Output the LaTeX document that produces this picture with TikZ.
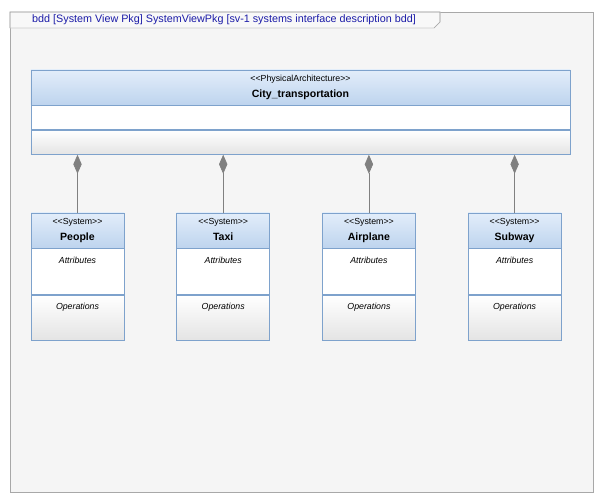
\documentclass[tikz,border=0pt]{standalone}
\usepackage{fontspec}
\setmainfont{Liberation Sans}
\usepackage{tikz}
\usetikzlibrary{positioning, arrows.meta}
\definecolor{frameline}{HTML}{A8A8A8}
\definecolor{framefill}{HTML}{F5F5F5}
\definecolor{tabfill}{HTML}{F8F8F8}
\definecolor{titleblue}{HTML}{1C1CA8}
\definecolor{boxline}{HTML}{7EA2CC}
\definecolor{headtop}{HTML}{E2EDFA}
\definecolor{headbot}{HTML}{BED4EE}
\definecolor{compbot}{HTML}{E4E4E4}
\definecolor{linkgray}{HTML}{808080}
\newcommand{\stereo}[1]{{\fontsize{7.5}{9}\selectfont{<}{<}#1{>}{>}}}
\newcommand{\blockname}[1]{{\fontsize{9}{11}\selectfont\bfseries #1\vphantom{g}}}
\tikzstyle{titletext} = [text=titleblue, font=\fontsize{9.2}{11}\selectfont, inner sep=0pt]
\tikzstyle{head} = [draw=boxline, line width=0.6pt, top color=headtop, bottom color=headbot, minimum width=27.9mm, minimum height=10.5mm, inner sep=0pt, align=center]
\tikzstyle{attrcomp} = [draw=boxline, line width=0.6pt, fill=white, minimum width=27.9mm, minimum height=13.8mm, inner sep=0pt]
\tikzstyle{opscomp} = [draw=boxline, line width=0.6pt, top color=white, middle color=white, bottom color=compbot, minimum width=27.9mm, minimum height=13.5mm, inner sep=0pt]
\tikzstyle{bighead} = [head, minimum width=161.7mm]
\tikzstyle{bigcomp} = [attrcomp, minimum width=161.7mm, minimum height=7.2mm]
\tikzstyle{bigops} = [opscomp, minimum width=161.7mm, minimum height=7.2mm]
\tikzstyle{compname} = [anchor=north, yshift=-2.5mm, inner sep=0pt, font=\fontsize{7.5}{9}\selectfont\itshape]
\tikzstyle{composition} = [draw=linkgray, line width=0.6pt, -{Diamond[length=5.7mm, width=2.5mm, fill=linkgray]}]

\begin{document}
\begin{tikzpicture}[x=0.3mm, y=-0.3mm, node distance=15.6mm]
\useasboundingbox (0,0) rectangle (600,502);
% diagram frame and its tab
\draw [frameline, fill=framefill, line width=0.6pt] (10,12) rectangle (593,492);
\draw [frameline!60, fill=tabfill, line width=0.6pt] (10,28) -- (10,12) -- (440,12) -- (440,22) -- (434,28) -- cycle;
\draw [frameline, line width=0.6pt] (10,28) -- (10,12) -- (440,12) -- (440,22) -- (434,28);
\node (title) [titletext, anchor=base west] at (32,22.5) {bdd [System View Pkg] SystemViewPkg [sv-1 systems interface description bdd]};

% physical architecture block
\node (city) [bighead] at (300.5,87.5) {\stereo{PhysicalArchitecture}\\[1pt]\blockname{City\_transportation}};
\node (city-attr) [bigcomp, below=0pt of city] {};
\node (city-ops) [bigops, below=0pt of city-attr] {};

% system blocks
\node (people) [head] at (77.5,230.5) {\stereo{System}\\[1pt]\blockname{People}};
\node (taxi) [head, right=of people] {\stereo{System}\\[1pt]\blockname{Taxi}};
\node (airplane) [head, right=of taxi] {\stereo{System}\\[1pt]\blockname{Airplane}};
\node (subway) [head, right=of airplane] {\stereo{System}\\[1pt]\blockname{Subway}};
\node (people-attr) [attrcomp, below=0pt of people, label={[compname]north:Attributes}] {};
\node (people-ops) [opscomp, below=0pt of people-attr, label={[compname]north:Operations}] {};
\node (taxi-attr) [attrcomp, below=0pt of taxi, label={[compname]north:Attributes}] {};
\node (taxi-ops) [opscomp, below=0pt of taxi-attr, label={[compname]north:Operations}] {};
\node (airplane-attr) [attrcomp, below=0pt of airplane, label={[compname]north:Attributes}] {};
\node (airplane-ops) [opscomp, below=0pt of airplane-attr, label={[compname]north:Operations}] {};
\node (subway-attr) [attrcomp, below=0pt of subway, label={[compname]north:Attributes}] {};
\node (subway-ops) [opscomp, below=0pt of subway-attr, label={[compname]north:Operations}] {};

% composition links
\draw [composition] (people) -- (people |- city-ops.south);
\draw [composition] (taxi) -- (taxi |- city-ops.south);
\draw [composition] (airplane) -- (airplane |- city-ops.south);
\draw [composition] (subway) -- (subway |- city-ops.south);
\end{tikzpicture}
\end{document}
